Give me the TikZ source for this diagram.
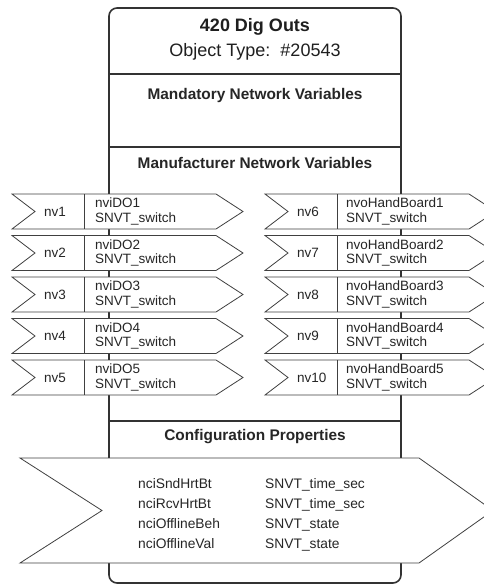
\documentclass[tikz,border=0pt]{standalone}
\usepackage{fontspec}
\setmainfont{Liberation Sans}
\tikzset{
  boxline/.style={draw=black!80, line width=1.6pt},
  flowshape/.style={draw=black!75, line width=0.8pt, fill=white, line join=miter},
  headtext/.style={font=\fontsize{18}{20}\selectfont, text=black!88, inner sep=0pt},
  sectext/.style={font=\bfseries\fontsize{15.4}{17}\selectfont, text=black!85, inner sep=0pt},
  vartext/.style={font=\fontsize{13.5}{14.5}\selectfont, align=left, anchor=west, inner sep=0pt, text=black!85},
  cfgtext/.style={font=\fontsize{13.8}{15}\selectfont, anchor=base west, inner sep=0pt, text=black!85}
}
\begin{document}
\begin{tikzpicture}[x=1pt, y=-1pt]
  \useasboundingbox (0,0) rectangle (484,587);

  % object block with its section dividers
  \draw[boxline, fill=white, rounded corners=8pt] (109,8) rectangle (401,583);
  \draw[boxline] (109,74) -- (401,74);
  \draw[boxline] (109,147) -- (401,147);
  \draw[boxline, line width=2.1pt] (109,421) -- (401,421);

  \node[headtext, font=\bfseries\fontsize{18}{20}\selectfont] (title) at (255,27) {420 Dig Outs};
  \node[headtext] (otype) at (255,52) {Object Type:\ \ \#20543};
  \node[sectext] (mand) at (255,96) {Mandatory Network Variables};
  \node[sectext] (manu) at (255,163) {Manufacturer Network Variables};
  \node[sectext] (conf) at (255,437) {Configuration Properties};

  % input network variables (left column)
  \foreach \i in {1,...,5} {
    \pgfmathsetmacro{\yc}{211.5+41.5*(\i-1)}
    \draw[flowshape] (12,\yc-17.5) -- (216,\yc-17.5) -- (243,\yc) -- (216,\yc+17.5)
      -- (12,\yc+17.5) -- (35,\yc) -- cycle;
    \draw[flowshape] (84,\yc-17.5) -- (84,\yc+17.5);
    \node[vartext] (inl\i) at (44,\yc) {nv\i};
    \node[vartext] (inv\i) at (95,\yc) {nviDO\i\\SNVT\_switch};
  }

  % output network variables (right column)
  \foreach \i [evaluate=\i as \n using int(\i+5)] in {1,...,5} {
    \pgfmathsetmacro{\yc}{211.5+41.5*(\i-1)}
    \draw[flowshape] (265,\yc-17.5) -- (469,\yc-17.5) -- (496,\yc) -- (469,\yc+17.5)
      -- (265,\yc+17.5) -- (288,\yc) -- cycle;
    \draw[flowshape] (337,\yc-17.5) -- (337,\yc+17.5);
    \node[vartext] (outl\i) at (297,\yc) {nv\n};
    \node[vartext] (outv\i) at (346,\yc) {nvoHandBoard\i\\SNVT\_switch};
  }

  % configuration properties
  \draw[flowshape] (20,458) -- (419,458) -- (493,510.5) -- (419,563)
    -- (20,563) -- (102,510.5) -- cycle;
  \node[cfgtext] (c1a) at (138,488) {nciSndHrtBt};
  \node[cfgtext] (c2a) at (138,508.5) {nciRcvHrtBt};
  \node[cfgtext] (c3a) at (138,528.5) {nciOfflineBeh};
  \node[cfgtext] (c4a) at (138,548) {nciOfflineVal};
  \node[cfgtext] (c1b) at (265,488) {SNVT\_time\_sec};
  \node[cfgtext] (c2b) at (265,508.5) {SNVT\_time\_sec};
  \node[cfgtext] (c3b) at (265,528.5) {SNVT\_state};
  \node[cfgtext] (c4b) at (265,548) {SNVT\_state};
\end{tikzpicture}
\end{document}
